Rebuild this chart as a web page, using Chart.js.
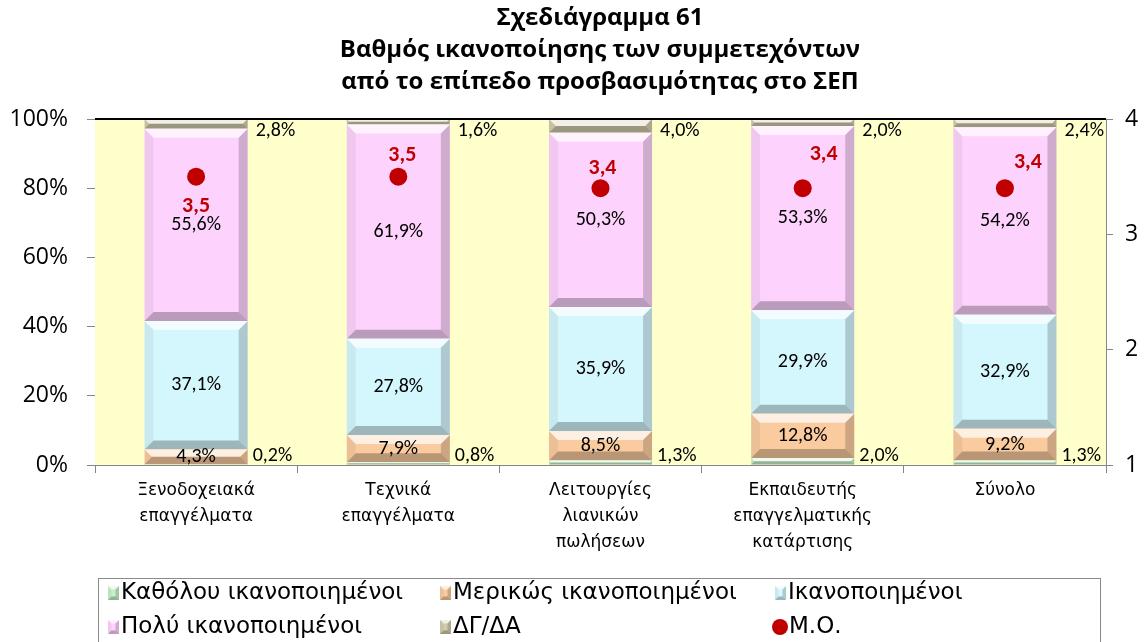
<!DOCTYPE html>
<html>
<head>
<meta charset="utf-8">
<script src="https://cdn.jsdelivr.net/npm/chart.js@4.4.1/dist/chart.umd.min.js"></script>
<style>
  html, body { margin: 0; padding: 0; background: #ffffff; }
  #wrap { width: 1148px; height: 642px; position: relative; }
</style>
</head>
<body>
<div id="wrap"><canvas id="c" width="1148" height="642"></canvas></div>
<script>
// ---- data ----
const titleLines = ['Σχεδιάγραμμα 61', 'Βαθμός ικανοποίησης των συμμετεχόντων', 'από το επίπεδο προσβασιμότητας στο ΣΕΠ'];
const categories = [
  ['Ξενοδοχειακά', 'επαγγέλματα'],
  ['Τεχνικά', 'επαγγέλματα'],
  ['Λειτουργίες', 'λιανικών', 'πωλήσεων'],
  ['Εκπαιδευτής', 'επαγγελματικής', 'κατάρτισης'],
  ['Σύνολο']
];
const notSatisfied    = [0.2, 0.8, 1.3, 2.0, 1.3];
const partlySatisfied = [4.3, 7.9, 8.5, 12.8, 9.2];
const satisfied       = [37.1, 27.8, 35.9, 29.9, 32.9];
const verySatisfied   = [55.6, 61.9, 50.3, 53.3, 54.2];
const noAnswer        = [2.8, 1.6, 4.0, 2.0, 2.4];
const meanScore       = [3.5, 3.5, 3.4, 3.4, 3.4];
const percentTicks = [0, 20, 40, 60, 80, 100];
const scoreTicks   = [1, 2, 3, 4];

// ---- styling ----
const CAL = "Carlito, Calibri, Roboto, sans-serif";
const OPEN = "'Open Sans', 'Noto Sans', sans-serif";
const VER = "'DejaVu Sans', Verdana, sans-serif";
const AXIS_GREY = '#868686';
const PLOT_BG = '#FFFFCC';
// where each segment's value label goes: inside the bar, or beside it
const labelPlacement = ['outsideBottom', 'inside', 'inside', 'inside', 'outsideTop'];
// manual nudges of the mean-score labels relative to their dots (px)
const meanLabelNudge = [[0, 30], [4, -21], [2, -20], [21, -34], [23, -26]];

const fmt = v => v.toFixed(1).replace('.', ',');

// plot area fill + top border
const plotFrame = {
  id: 'plotFrame',
  beforeDatasetsDraw(chart) {
    const { ctx, chartArea: a } = chart;
    ctx.save();
    ctx.fillStyle = PLOT_BG;
    ctx.fillRect(a.left, a.top, a.right - a.left, a.bottom - a.top);
    ctx.restore();
  },
  afterDatasetsDraw(chart) {
    const { ctx, chartArea: a } = chart;
    ctx.save();
    ctx.strokeStyle = '#000';
    ctx.lineWidth = 2;
    ctx.beginPath();
    ctx.moveTo(a.left, a.top);
    ctx.lineTo(a.right, a.top);
    ctx.stroke();
    ctx.restore();
  }
};

// bevelled edges on every stacked segment
function bevelRect(ctx, l, t, r, b, size) {
  const h = b - t, w = r - l;
  const s = Math.max(0, Math.min(size, h / 2, w / 2));
  if (s < 0.5) return;
  const poly = (pts, fill) => {
    ctx.beginPath();
    ctx.moveTo(pts[0][0], pts[0][1]);
    for (let i = 1; i < pts.length; i++) ctx.lineTo(pts[i][0], pts[i][1]);
    ctx.closePath();
    ctx.fillStyle = fill;
    ctx.fill();
  };
  poly([[l, t], [r, t], [r - s, t + s], [l + s, t + s]], 'rgba(255,255,255,0.7)');
  poly([[l, t], [l + s, t + s], [l + s, b - s], [l, b]], 'rgba(0,0,0,0.05)');
  poly([[r, t], [r, b], [r - s, b - s], [r - s, t + s]], 'rgba(0,0,0,0.18)');
  poly([[l, b], [l + s, b - s], [r - s, b - s], [r, b]], 'rgba(0,0,0,0.26)');
}
const bevel = {
  id: 'bevel',
  afterDatasetDraw(chart, args) {
    const meta = args.meta;
    if (meta.type !== 'bar') return;
    const ctx = chart.ctx;
    ctx.save();
    meta.data.forEach(el => {
      const p = el.getProps(['x', 'y', 'base', 'width'], true);
      const l = p.x - p.width / 2, r = p.x + p.width / 2;
      const t = Math.min(p.y, p.base), b = Math.max(p.y, p.base);
      bevelRect(ctx, l, t, r, b, 9);
    });
    ctx.restore();
  }
};

// percentage labels and mean-score labels
const valueLabels = {
  id: 'valueLabels',
  afterDatasetsDraw(chart) {
    const ctx = chart.ctx;
    ctx.save();
    chart.data.datasets.forEach((ds, di) => {
      const meta = chart.getDatasetMeta(di);
      if (meta.type === 'bar') {
        ctx.font = '20px ' + CAL;
        ctx.fillStyle = '#000';
        meta.data.forEach((el, i) => {
          const p = el.getProps(['x', 'y', 'base', 'width'], true);
          const txt = fmt(ds.data[i]) + '%';
          const place = labelPlacement[di];
          const top = Math.min(p.y, p.base), bot = Math.max(p.y, p.base);
          ctx.textBaseline = 'middle';
          if (place === 'inside') {
            ctx.textAlign = 'center';
            ctx.fillText(txt, p.x, (top + bot) / 2);
          } else if (place === 'outsideBottom') {
            ctx.textAlign = 'left';
            ctx.fillText(txt, p.x + p.width / 2 + 5, bot - 9);
          } else {
            ctx.textAlign = 'left';
            ctx.fillText(txt, p.x + p.width / 2 + 8, top + 12);
          }
        });
      } else {
        ctx.font = 'bold 22px ' + CAL;
        ctx.fillStyle = '#C00000';
        ctx.textAlign = 'center';
        ctx.textBaseline = 'middle';
        meta.data.forEach((el, i) => {
          const n = meanLabelNudge[i];
          ctx.fillText(fmt(ds.data[i]), el.x + n[0], el.y + n[1]);
        });
      }
    });
    ctx.restore();
  }
};

// three-line bold heading
const heading = {
  id: 'heading',
  afterDraw(chart) {
    const ctx = chart.ctx;
    ctx.save();
    ctx.font = 'bold 24px ' + OPEN;
    ctx.fillStyle = '#000';
    ctx.textAlign = 'center';
    ctx.textBaseline = 'middle';
    const ys = [18, 50, 82];
    titleLines.forEach((t, i) => ctx.fillText(t, 600, ys[i]));
    ctx.restore();
  }
};

// boxed legend in a 3-column grid
const gridLegend = {
  id: 'gridLegend',
  afterDraw(chart) {
    const ctx = chart.ctx;
    ctx.save();
    ctx.strokeStyle = '#8a8a8a';
    ctx.lineWidth = 1;
    ctx.strokeRect(98.5, 578.5, 1002, 80);
    const cols = [108, 440, 775];
    const rows = [593, 627];
    ctx.font = '23px ' + VER;
    ctx.textBaseline = 'middle';
    ctx.textAlign = 'left';
    chart.data.datasets.forEach((ds, i) => {
      const x = cols[i % 3], y = rows[Math.floor(i / 3)];
      if (ds.type === 'line') {
        ctx.beginPath();
        ctx.arc(x + 5, y, 8, 0, Math.PI * 2);
        ctx.fillStyle = ds.pointBackgroundColor;
        ctx.fill();
        ctx.fillStyle = '#000';
        ctx.fillText(ds.label, x + 14, y);
      } else {
        ctx.fillStyle = ds.backgroundColor;
        ctx.fillRect(x, y - 7, 11, 14);
        bevelRect(ctx, x, y - 7, x + 11, y + 7, 3.5);
        ctx.fillStyle = '#000';
        ctx.fillText(ds.label, x + 13, y);
      }
    });
    ctx.restore();
  }
};

const barDefaults = { type: 'bar', yAxisID: 'y', order: 1, borderWidth: 0, barPercentage: 0.51, categoryPercentage: 1 };

new Chart(document.getElementById('c'), {
  data: {
    labels: categories,
    datasets: [
      Object.assign({ label: 'Καθόλου ικανοποιημένοι', data: notSatisfied, backgroundColor: '#C8F0C8' }, barDefaults),
      Object.assign({ label: 'Μερικώς ικανοποιημένοι', data: partlySatisfied, backgroundColor: '#F9CB9F' }, barDefaults),
      Object.assign({ label: 'Ικανοποιημένοι', data: satisfied, backgroundColor: '#D4F6FD' }, barDefaults),
      Object.assign({ label: 'Πολύ ικανοποιημένοι', data: verySatisfied, backgroundColor: '#FDD2FC' }, barDefaults),
      Object.assign({ label: 'ΔΓ/ΔΑ', data: noAnswer, backgroundColor: '#D2CCAC' }, barDefaults),
      {
        type: 'line', label: 'Μ.Ο.', data: meanScore, yAxisID: 'y1', order: 0,
        showLine: false, pointRadius: 9, pointHoverRadius: 9, pointBorderWidth: 0,
        pointBackgroundColor: '#C00000', pointBorderColor: '#C00000'
      }
    ]
  },
  options: {
    responsive: false,
    animation: false,
    events: [],
    layout: { padding: { top: 119, bottom: 47, left: 0, right: 0 } },
    plugins: { legend: { display: false }, tooltip: { enabled: false }, title: { display: false } },
    scales: {
      x: {
        stacked: true,
        offset: true,
        grid: { offset: true, drawOnChartArea: false, drawTicks: true, tickLength: 8, color: AXIS_GREY },
        border: { color: AXIS_GREY, width: 1 },
        ticks: { font: { size: 17, family: VER, lineHeight: 1.55 }, color: '#000', padding: 4, maxRotation: 0, autoSkip: false },
        afterFit: s => { s.height = 130; }
      },
      y: {
        stacked: true,
        position: 'left',
        min: 0, max: 100,
        afterBuildTicks: s => { s.ticks = percentTicks.map(v => ({ value: v })); },
        ticks: { callback: v => v + '%', font: { size: 23, family: OPEN }, color: '#000', padding: 19 },
        grid: { drawOnChartArea: false, tickLength: 8, color: AXIS_GREY },
        border: { color: AXIS_GREY, width: 1 },
        afterFit: s => { s.width = 95; }
      },
      y1: {
        position: 'right',
        min: 1, max: 4,
        afterBuildTicks: s => { s.ticks = scoreTicks.map(v => ({ value: v })); },
        ticks: { font: { size: 23, family: OPEN }, color: '#000', padding: 12 },
        grid: { drawOnChartArea: false, tickLength: 7, color: AXIS_GREY },
        border: { color: AXIS_GREY, width: 1 },
        afterFit: s => { s.width = 42; }
      }
    }
  },
  plugins: [plotFrame, bevel, valueLabels, heading, gridLegend]
});
</script>
</body>
</html>
